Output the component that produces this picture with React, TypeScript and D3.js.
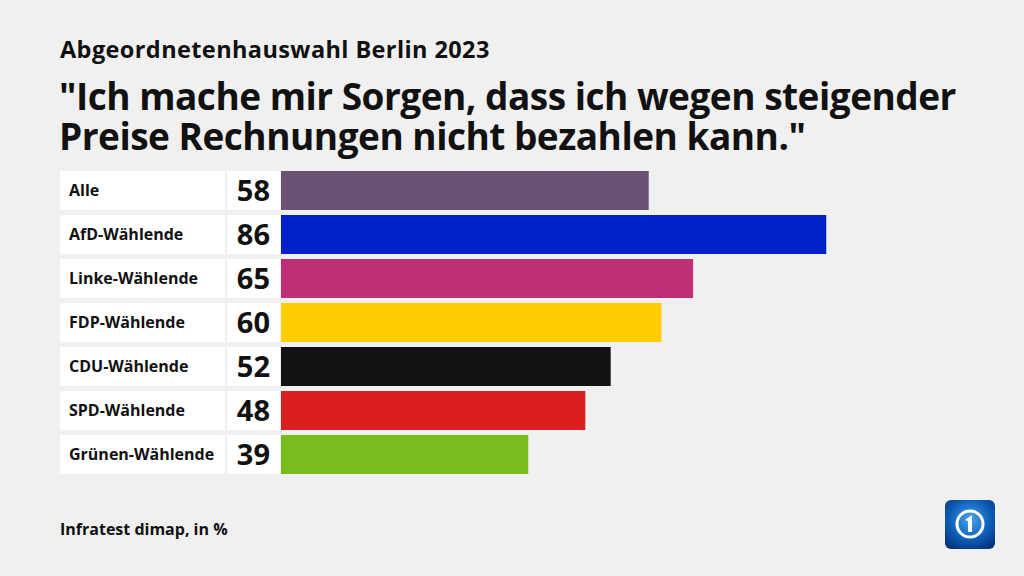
import React from "react";
import * as d3 from "d3";

const categories = ["Alle", "AfD-Wählende", "Linke-Wählende", "FDP-Wählende", "CDU-Wählende", "SPD-Wählende", "Grünen-Wählende"];
const values = [58, 86, 65, 60, 52, 48, 39];
const colors = ["#6a5372", "#0021c8", "#be3075", "#ffcc00", "#121212", "#d9201f", "#78bc1b"];
const subtitle = "Abgeordnetenhauswahl Berlin 2023";
const titleLines = ["\"Ich mache mir Sorgen, dass ich wegen steigender", "Preise Rechnungen nicht bezahlen kann.\""];
const source = "Infratest dimap, in %";

const W = 1024;
const H = 576;
const FONT = "'Open Sans', 'Noto Sans', sans-serif";

export default function App() {
  const x = d3.scaleLinear().domain([0, 100]).range([281, 915]);
  const y = d3.scaleBand<string>().domain(categories).range([171, 171 + 44 * 7 - 5]).paddingInner(5 / 44).paddingOuter(0);
  const bh = y.bandwidth();
  return (
    <svg width={W} height={H} style={{ position: "absolute", left: 0, top: 0, display: "block" }}>
      <rect x={0} y={0} width={W} height={H} fill="#f0f0f0" />
      <text x={60} y={58} fontFamily={FONT} fontWeight={700} fontSize={23.5} fill="#111" letterSpacing={0.4}>{subtitle}</text>
      {titleLines.map((t, i) => (
        <text key={i} x={59} y={110 + i * 40} fontFamily={FONT} fontWeight={700} fontSize={37} fill="#111" letterSpacing={-0.5}>{t}</text>
      ))}
      {categories.map((c, i) => {
        const yy = y(c)!;
        return (
          <g key={c}>
            <rect x={60} y={yy} width={165} height={bh} fill="#ffffff" />
            <rect x={227} y={yy} width={53} height={bh} fill="#ffffff" />
            <rect x={x(0)} y={yy} width={x(values[i]) - x(0)} height={bh} fill={colors[i]} />
            <text x={69} y={yy + bh / 2 + 5.5} fontFamily={FONT} fontWeight={700} fontSize={16} fill="#111">{c}</text>
            <text x={270} y={yy + bh / 2 + 10.5} textAnchor="end" fontFamily={FONT} fontWeight={700} fontSize={29} fill="#111">{values[i]}</text>
          </g>
        );
      })}
      <text x={60} y={535} fontFamily={FONT} fontWeight={700} fontSize={16} fill="#111">{source}</text>
      <g transform="translate(945,500)">
        <defs>
          <radialGradient id="lg" cx="0.5" cy="0.4" r="0.7">
            <stop offset="0" stopColor="#4aa3ea" />
            <stop offset="0.6" stopColor="#0b5bb5" />
            <stop offset="1" stopColor="#06337a" />
          </radialGradient>
        </defs>
        <rect x={0} y={0} width={50} height={49} rx={6} fill="url(#lg)" />
        <circle cx={25} cy={24} r={13} fill="none" stroke="#ffffff" strokeWidth={3} />
        <path d="M20 20 L27 15 L27 32 L23 32 L23 21 Z" fill="#ffffff" />
      </g>
    </svg>
  );
}
